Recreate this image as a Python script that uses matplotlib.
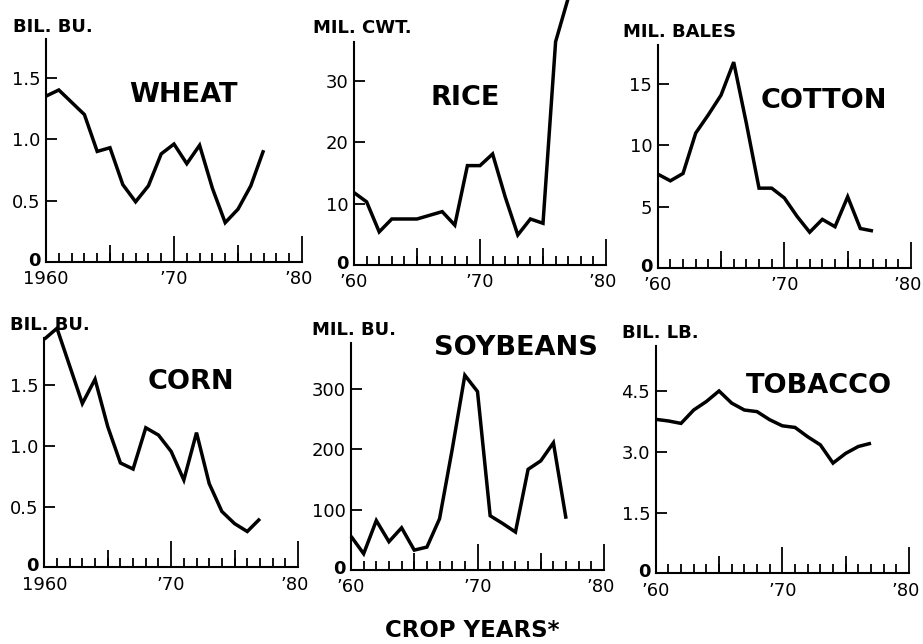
import matplotlib
matplotlib.use("Agg")
import matplotlib.pyplot as plt
from matplotlib.transforms import ScaledTranslation

W, H = 923, 644
plt.rcParams['font.family'] = ['DejaVu Sans']

years = list(range(1960, 1978))

wheat = [1.35, 1.40, 1.30, 1.20, 0.90, 0.93, 0.63, 0.49, 0.62, 0.88, 0.96, 0.80, 0.95, 0.60, 0.32, 0.43, 0.62, 0.91]
rice = [11.8, 10.3, 5.4, 7.5, 7.5, 7.5, 8.1, 8.7, 6.5, 16.2, 16.2, 18.1, 11.1, 4.9, 7.5, 6.8, 36.4, 43.5]
cotton = [7.65, 7.1, 7.7, 11.0, 12.5, 14.1, 16.8, 11.8, 6.5, 6.5, 5.7, 4.2, 2.9, 3.95, 3.35, 5.8, 3.2, 3.0]
corn = [1.88, 1.97, 1.66, 1.35, 1.55, 1.16, 0.86, 0.81, 1.15, 1.09, 0.955, 0.72, 1.11, 0.69, 0.46, 0.36, 0.295, 0.40]
soybeans = [56, 27, 82, 47, 70, 33, 38, 85, 200, 323, 296, 90, 77, 63, 167, 181, 211, 85]
tobacco = [3.80, 3.76, 3.70, 4.03, 4.24, 4.50, 4.20, 4.03, 3.99, 3.79, 3.64, 3.60, 3.37, 3.17, 2.72, 2.96, 3.13, 3.21]

titles = ["WHEAT", "RICE", "COTTON", "CORN", "SOYBEANS", "TOBACCO"]
units = ["BIL. BU.", "MIL. CWT.", "MIL. BALES", "BIL. BU.", "MIL. BU.", "BIL. LB."]
series = [wheat, rice, cotton, corn, soybeans, tobacco]
yticks = [[0, 0.5, 1.0, 1.5], [0, 10, 20, 30], [0, 5, 10, 15],
          [0, 0.5, 1.0, 1.5], [0, 100, 200, 300], [0, 1.5, 3.0, 4.5]]
ytick_labels = [["0", "0.5", "1.0", "1.5"], ["0", "10", "20", "30"], ["0", "5", "10", "15"],
                ["0", "0.5", "1.0", "1.5"], ["0", "100", "200", "300"], ["0", "1.5", "3.0", "4.5"]]
ymax = [1.815, 36.4, 18.2, 1.89, 377, 5.61]
xtick_labels_full = ["1960", "\u201970", "\u201980"]
xtick_labels_short = ["\u201960", "\u201970", "\u201980"]

# layout in pixels: x0, x1, ybottom, ytop
rects = [(46, 302, 262, 39), (354, 606, 265, 41.7), (657.7, 911, 267.7, 45),
         (44.3, 298, 567.3, 338), (351, 604, 570, 342.7), (655.7, 909, 573.3, 346)]
title_pos = [(183, 102), (465, 105), (824, 108), (191, 389), (516, 355), (819, 393)]
unit_pos = [(13, 32), (313, 33), (623, 37), (10, 330), (312, 335), (622, 338)]

fig = plt.figure(figsize=(W / 100, H / 100), dpi=100)

for i in range(6):
    x0, x1, yb, yt = rects[i]
    ax = fig.add_axes([x0 / W, 1 - yb / H, (x1 - x0) / W, (yb - yt) / H])
    ax.plot(years, series[i], color='black', lw=2.5, clip_on=False,
            solid_joinstyle='miter', solid_capstyle='butt')
    ax.set_xlim(1960, 1980)
    ax.set_ylim(0, ymax[i])
    for s in ['top', 'right']:
        ax.spines[s].set_visible(False)
    for s in ['left', 'bottom']:
        ax.spines[s].set_linewidth(1.5)
    ax.set_xticks([1960, 1970, 1980])
    ax.set_xticklabels(xtick_labels_full if i in (0, 3) else xtick_labels_short)
    ax.set_xticks(list(range(1960, 1981)), minor=True)
    ax.tick_params(axis='x', which='major', direction='in', length=19, width=1.3,
                   labelsize=13, pad=6)
    ax.tick_params(axis='x', which='minor', direction='in', length=6.5, width=1.3)
    ax.set_yticks(yticks[i])
    ax.set_yticklabels(ytick_labels[i])
    ax.tick_params(axis='y', which='major', direction='in', length=8, width=1.3,
                   labelsize=13, pad=4)
    zero = ax.get_yticklabels()[0]
    zero.set_fontweight('bold')
    zero.set_transform(zero.get_transform() + ScaledTranslation(0, 3 / 100, fig.dpi_scale_trans))
    last = ax.get_xticklabels()[-1]
    last.set_transform(last.get_transform() + ScaledTranslation(-3 / 100, 0, fig.dpi_scale_trans))
    ax.patch.set_visible(False)
    sec = ax.secondary_xaxis('bottom')
    sec.set_xticks([1965, 1975])
    sec.tick_params(axis='x', direction='in', length=12.2, width=1.3, labelbottom=False)
    sec.spines['bottom'].set_visible(False)

    tx, ty = title_pos[i]
    fig.text(tx / W, 1 - ty / H, titles[i], ha='center', va='baseline',
             fontsize=19.5, fontweight='bold')
    ux, uy = unit_pos[i]
    fig.text(ux / W, 1 - uy / H, units[i], ha='left', va='baseline',
             fontsize=13, fontweight='bold')

fig.text(472 / W, 1 - 637 / H, "CROP YEARS*", ha='center', va='baseline',
         fontsize=16.5, fontweight='bold')

fig.savefig("out.png", dpi=100, facecolor='white')
